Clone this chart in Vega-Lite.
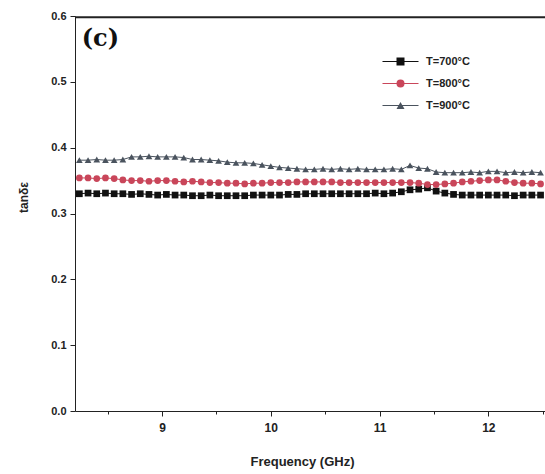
{
  "$schema": "https://vega.github.io/schema/vega-lite/v6.json",
  "width": 471,
  "height": 395,
  "autosize": {"type": "none"},
  "padding": {"left": 75, "top": 16, "right": 0, "bottom": 63},
  "config": {
    "view": {"stroke": null},
    "font": "Liberation Sans",
    "axis": {
      "labelFont": "Liberation Sans",
      "labelFontWeight": "bold",
      "labelColor": "#222222",
      "domainColor": "#222222",
      "tickColor": "#222222",
      "titleFont": "Liberation Sans",
      "titleFontWeight": "bold",
      "titleColor": "#222222",
      "grid": false
    },
    "legend": {
      "labelFont": "Liberation Sans",
      "labelFontWeight": "bold",
      "labelFontSize": 11,
      "labelColor": "#222222"
    }
  },
  "datasets": {
    "d": [
      {"f": 8.24, "T=700°C": 0.330, "T=800°C": 0.354, "T=900°C": 0.381},
      {"f": 8.32, "T=700°C": 0.331, "T=800°C": 0.354, "T=900°C": 0.381},
      {"f": 8.40, "T=700°C": 0.330, "T=800°C": 0.353, "T=900°C": 0.382},
      {"f": 8.48, "T=700°C": 0.331, "T=800°C": 0.354, "T=900°C": 0.381},
      {"f": 8.56, "T=700°C": 0.330, "T=800°C": 0.353, "T=900°C": 0.381},
      {"f": 8.64, "T=700°C": 0.330, "T=800°C": 0.351, "T=900°C": 0.382},
      {"f": 8.72, "T=700°C": 0.329, "T=800°C": 0.350, "T=900°C": 0.386},
      {"f": 8.80, "T=700°C": 0.330, "T=800°C": 0.350, "T=900°C": 0.386},
      {"f": 8.88, "T=700°C": 0.329, "T=800°C": 0.349, "T=900°C": 0.387},
      {"f": 8.96, "T=700°C": 0.328, "T=800°C": 0.350, "T=900°C": 0.386},
      {"f": 9.04, "T=700°C": 0.329, "T=800°C": 0.350, "T=900°C": 0.386},
      {"f": 9.12, "T=700°C": 0.328, "T=800°C": 0.349, "T=900°C": 0.386},
      {"f": 9.20, "T=700°C": 0.328, "T=800°C": 0.348, "T=900°C": 0.385},
      {"f": 9.28, "T=700°C": 0.327, "T=800°C": 0.349, "T=900°C": 0.382},
      {"f": 9.36, "T=700°C": 0.327, "T=800°C": 0.348, "T=900°C": 0.382},
      {"f": 9.44, "T=700°C": 0.328, "T=800°C": 0.347, "T=900°C": 0.381},
      {"f": 9.52, "T=700°C": 0.327, "T=800°C": 0.347, "T=900°C": 0.380},
      {"f": 9.60, "T=700°C": 0.327, "T=800°C": 0.346, "T=900°C": 0.378},
      {"f": 9.68, "T=700°C": 0.327, "T=800°C": 0.346, "T=900°C": 0.377},
      {"f": 9.76, "T=700°C": 0.327, "T=800°C": 0.345, "T=900°C": 0.377},
      {"f": 9.84, "T=700°C": 0.328, "T=800°C": 0.346, "T=900°C": 0.376},
      {"f": 9.92, "T=700°C": 0.328, "T=800°C": 0.346, "T=900°C": 0.374},
      {"f": 10.00, "T=700°C": 0.328, "T=800°C": 0.347, "T=900°C": 0.372},
      {"f": 10.08, "T=700°C": 0.328, "T=800°C": 0.347, "T=900°C": 0.370},
      {"f": 10.16, "T=700°C": 0.329, "T=800°C": 0.347, "T=900°C": 0.369},
      {"f": 10.24, "T=700°C": 0.329, "T=800°C": 0.348, "T=900°C": 0.368},
      {"f": 10.32, "T=700°C": 0.330, "T=800°C": 0.348, "T=900°C": 0.367},
      {"f": 10.40, "T=700°C": 0.330, "T=800°C": 0.348, "T=900°C": 0.367},
      {"f": 10.48, "T=700°C": 0.330, "T=800°C": 0.348, "T=900°C": 0.368},
      {"f": 10.56, "T=700°C": 0.330, "T=800°C": 0.348, "T=900°C": 0.367},
      {"f": 10.64, "T=700°C": 0.330, "T=800°C": 0.347, "T=900°C": 0.368},
      {"f": 10.72, "T=700°C": 0.330, "T=800°C": 0.347, "T=900°C": 0.367},
      {"f": 10.80, "T=700°C": 0.330, "T=800°C": 0.347, "T=900°C": 0.368},
      {"f": 10.88, "T=700°C": 0.330, "T=800°C": 0.347, "T=900°C": 0.367},
      {"f": 10.96, "T=700°C": 0.331, "T=800°C": 0.347, "T=900°C": 0.367},
      {"f": 11.04, "T=700°C": 0.330, "T=800°C": 0.347, "T=900°C": 0.367},
      {"f": 11.12, "T=700°C": 0.331, "T=800°C": 0.347, "T=900°C": 0.368},
      {"f": 11.20, "T=700°C": 0.333, "T=800°C": 0.347, "T=900°C": 0.367},
      {"f": 11.28, "T=700°C": 0.336, "T=800°C": 0.347, "T=900°C": 0.373},
      {"f": 11.36, "T=700°C": 0.337, "T=800°C": 0.346, "T=900°C": 0.369},
      {"f": 11.44, "T=700°C": 0.339, "T=800°C": 0.344, "T=900°C": 0.368},
      {"f": 11.52, "T=700°C": 0.334, "T=800°C": 0.344, "T=900°C": 0.363},
      {"f": 11.60, "T=700°C": 0.331, "T=800°C": 0.345, "T=900°C": 0.362},
      {"f": 11.68, "T=700°C": 0.329, "T=800°C": 0.346, "T=900°C": 0.362},
      {"f": 11.76, "T=700°C": 0.328, "T=800°C": 0.348, "T=900°C": 0.362},
      {"f": 11.84, "T=700°C": 0.328, "T=800°C": 0.349, "T=900°C": 0.363},
      {"f": 11.92, "T=700°C": 0.328, "T=800°C": 0.350, "T=900°C": 0.362},
      {"f": 12.00, "T=700°C": 0.328, "T=800°C": 0.351, "T=900°C": 0.364},
      {"f": 12.08, "T=700°C": 0.328, "T=800°C": 0.351, "T=900°C": 0.364},
      {"f": 12.16, "T=700°C": 0.328, "T=800°C": 0.349, "T=900°C": 0.362},
      {"f": 12.24, "T=700°C": 0.327, "T=800°C": 0.347, "T=900°C": 0.363},
      {"f": 12.32, "T=700°C": 0.328, "T=800°C": 0.346, "T=900°C": 0.362},
      {"f": 12.40, "T=700°C": 0.328, "T=800°C": 0.346, "T=900°C": 0.363},
      {"f": 12.48, "T=700°C": 0.328, "T=800°C": 0.345, "T=900°C": 0.362}
    ],
    "label": [{"label": "(c)"}]
  },
  "layer": [
    {
      "data": {"name": "label"},
      "mark": {"type": "rule", "color": "#222222", "strokeWidth": 2},
      "encoding": {
        "y": {"datum": 0.598, "type": "quantitative"}
      }
    },
    {
      "data": {"name": "d"},
      "transform": [{"fold": ["T=700°C", "T=800°C", "T=900°C"], "as": ["T", "v"]}],
      "mark": {"type": "line", "strokeWidth": 1},
      "encoding": {
        "x": {
          "field": "f",
          "type": "quantitative",
          "scale": {"domain": [8.2, 12.53], "nice": false, "zero": false},
          "axis": {
            "values": [8.5, 9, 9.5, 10, 10.5, 11, 11.5, 12, 12.5],
            "labelExpr": "datum.value % 1 == 0 ? format(datum.value, 'd') : ''",
            "tickSize": {"condition": {"test": "datum.value % 1 == 0", "value": 5}, "value": 3},
            "labelFontSize": 12,
            "labelPadding": 6,
            "title": "Frequency (GHz)",
            "titleFontSize": 13,
            "titlePadding": 22,
            "titleX": 227
          }
        },
        "y": {
          "field": "v",
          "type": "quantitative",
          "scale": {"domain": [0, 0.6], "nice": false},
          "axis": {
            "values": [0, 0.05, 0.1, 0.15, 0.2, 0.25, 0.3, 0.35, 0.4, 0.45, 0.5, 0.55, 0.6],
            "labelExpr": "round(datum.value * 100) % 10 == 0 ? format(datum.value, '.1f') : ''",
            "tickSize": {"condition": {"test": "round(datum.value * 100) % 10 == 0", "value": 5}, "value": 3},
            "labelFontSize": 11,
            "labelPadding": 4,
            "title": "tanδε",
            "titleFontSize": 12,
            "titlePadding": 20,
            "titleY": 181
          }
        },
        "stroke": {
          "field": "T",
          "type": "nominal",
          "scale": {"range": ["#111111", "#c9465a", "#4a535e"]},
          "legend": {
            "orient": "none",
            "legendX": 320,
            "legendY": 40,
            "title": null,
            "symbolType": "M-4.5,0H4.5",
            "symbolSize": 64,
            "symbolStrokeWidth": 1.2,
            "labelExpr": "''",
            "rowPadding": 10
          }
        }
      }
    },
    {
      "data": {"name": "d"},
      "transform": [{"fold": ["T=700°C", "T=800°C", "T=900°C"], "as": ["T", "v"]}],
      "mark": {"type": "point", "filled": true, "size": 45, "opacity": 1, "strokeWidth": 0},
      "encoding": {
        "x": {"field": "f", "type": "quantitative"},
        "y": {"field": "v", "type": "quantitative"},
        "fill": {
          "field": "T",
          "type": "nominal",
          "scale": {"domain": ["T=700°C", "T=800°C", "T=900°C"], "range": ["#111111", "#c9465a", "#4a535e"]},
          "legend": {
            "orient": "none",
            "legendX": 320,
            "legendY": 40,
            "title": null,
            "symbolSize": 64,
            "symbolStrokeWidth": 0,
            "labelOffset": 20,
            "rowPadding": 10
          }
        },
        "shape": {
          "field": "T",
          "type": "nominal",
          "scale": {"domain": ["T=700°C", "T=800°C", "T=900°C"], "range": ["square", "circle", "triangle-up"]},
          "legend": {
            "orient": "none",
            "legendX": 320,
            "legendY": 40,
            "title": null,
            "symbolSize": 64,
            "symbolStrokeWidth": 0,
            "labelOffset": 20,
            "rowPadding": 10
          }
        }
      }
    },
    {
      "data": {"name": "label"},
      "mark": {"type": "text", "font": "DejaVu Serif", "fontWeight": "bold", "fontSize": 24, "align": "left", "baseline": "middle", "color": "#111111"},
      "encoding": {
        "x": {"datum": 8.262},
        "y": {"datum": 0.565},
        "text": {"field": "label"}
      }
    }
  ]
}
